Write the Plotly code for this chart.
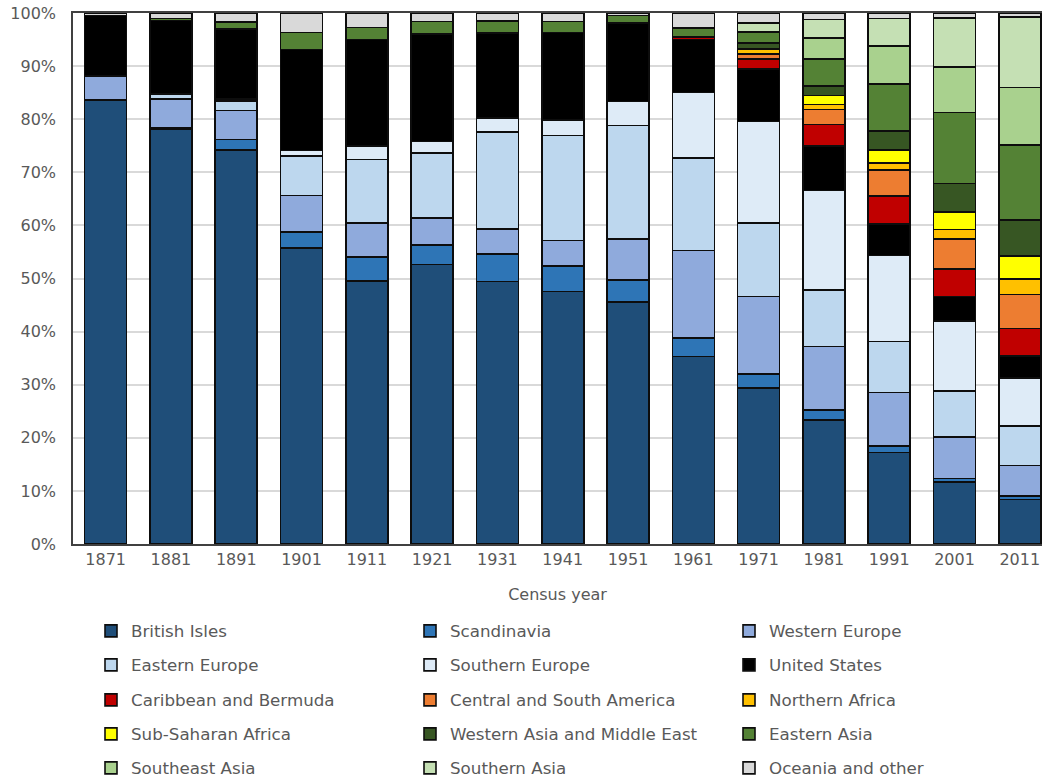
import plotly.graph_objects as go

# Census years
years = ["1871", "1881", "1891", "1901", "1911", "1921", "1931", "1941",
         "1951", "1961", "1971", "1981", "1991", "2001", "2011"]

# Share of the immigrant population by place of birth (%)
british_isles = [83.6, 78.1, 74.25, 55.8, 49.5, 52.6, 49.4, 47.55, 45.6, 35.3, 29.4, 23.4, 17.2, 11.7, 8.4]
scandinavia = [0.1, 0.3, 1.9, 3.0, 4.5, 3.7, 5.25, 4.8, 4.15, 3.5, 2.65, 1.8, 1.3, 0.6, 0.6]
western_europe = [4.4, 5.4, 5.5, 6.8, 6.4, 5.1, 4.7, 4.8, 7.7, 16.5, 14.55, 12.0, 10.0, 7.8, 5.8]
eastern_europe = [0.0, 0.9, 1.75, 7.5, 12.0, 12.2, 18.25, 19.75, 21.4, 17.45, 13.85, 10.6, 9.6, 8.7, 7.4]
southern_europe = [0.0, 0.0, 0.4, 1.0, 2.5, 2.2, 2.6, 2.9, 4.45, 12.3, 19.15, 18.8, 16.2, 13.2, 9.1]
united_states = [11.4, 13.9, 13.15, 19.0, 20.1, 20.2, 16.0, 16.5, 14.8, 9.95, 9.9, 8.3, 6.0, 4.6, 4.1]
caribbean_bermuda = [0, 0, 0, 0, 0, 0, 0, 0, 0, 0.5, 1.8, 4.1, 5.2, 5.2, 5.2]
central_south_america = [0, 0, 0, 0, 0, 0, 0, 0, 0, 0, 1.0, 2.8, 4.9, 5.6, 6.4]
northern_africa = [0, 0, 0, 0, 0, 0, 0, 0, 0, 0, 0.95, 1.0, 1.3, 1.8, 2.9]
sub_saharan_africa = [0, 0, 0, 0, 0, 0, 0, 0, 0, 0, 0.1, 1.7, 2.5, 3.3, 4.3]
western_asia_middle_east = [0, 0, 0, 0, 0, 0, 0, 0, 0, 0, 0.95, 1.7, 3.6, 5.4, 6.8]
eastern_asia = [0, 0.4, 1.4, 3.25, 2.25, 2.4, 2.35, 2.1, 1.4, 1.7, 2.15, 5.1, 8.8, 13.4, 14.1]
southeast_asia = [0, 0, 0, 0, 0, 0, 0, 0, 0, 0, 0.1, 4.0, 7.2, 8.5, 10.9]
southern_asia = [0, 0, 0, 0, 0, 0, 0, 0, 0, 0, 1.6, 3.5, 5.2, 9.3, 13.2]
oceania_other = [0.5, 1.0, 1.65, 3.65, 2.75, 1.6, 1.45, 1.6, 0.5, 2.8, 1.85, 1.2, 1.0, 0.9, 0.8]

regions = [
    ("British Isles", british_isles, "#1F4E79"),
    ("Scandinavia", scandinavia, "#2E75B6"),
    ("Western Europe", western_europe, "#8FAADC"),
    ("Eastern Europe", eastern_europe, "#BDD7EE"),
    ("Southern Europe", southern_europe, "#DEEBF7"),
    ("United States", united_states, "#000000"),
    ("Caribbean and Bermuda", caribbean_bermuda, "#C00000"),
    ("Central and South America", central_south_america, "#ED7D31"),
    ("Northern Africa", northern_africa, "#FFC000"),
    ("Sub-Saharan Africa", sub_saharan_africa, "#FFFF00"),
    ("Western Asia and Middle East", western_asia_middle_east, "#375623"),
    ("Eastern Asia", eastern_asia, "#548235"),
    ("Southeast Asia", southeast_asia, "#A9D18E"),
    ("Southern Asia", southern_asia, "#C5E0B4"),
    ("Oceania and other", oceania_other, "#D9D9D9"),
]

FONT = "DejaVu Sans, Verdana, sans-serif"
GREY_TEXT = "#595959"

fig = go.Figure()
legend_ids = ["legend", "legend2", "legend3", "legend4", "legend5"]
for i, (name, vals, color) in enumerate(regions):
    fig.add_trace(go.Bar(
        x=years, y=vals, name=name,
        marker=dict(color=color, line=dict(color="#0d0d0d", width=1.6)),
        legend=legend_ids[i // 3],
    ))

# one horizontal legend per row, three entries each
row_px = [631, 665, 700, 734, 768]
plot_left, plot_right = 73, 1042
plot_top, plot_bottom = 13, 544
plot_w = plot_right - plot_left
plot_h = plot_bottom - plot_top
legend_layout = {}
for k, lid in enumerate(legend_ids):
    legend_layout[lid] = dict(
        orientation="h",
        x=18 / plot_w, xanchor="left",
        y=(plot_bottom - row_px[k]) / plot_h, yanchor="middle",
        entrywidth=274, entrywidthmode="pixels",
        font=dict(family=FONT, size=16.7, color=GREY_TEXT),
        bgcolor="rgba(0,0,0,0)",
        traceorder="normal",
        itemclick=False, itemdoubleclick=False,
    )

fig.update_layout(
    width=1042, height=778,
    margin=dict(l=plot_left, r=1042 - plot_right, t=plot_top, b=778 - plot_bottom,
                autoexpand=False),
    barmode="stack", bargap=0.357,
    plot_bgcolor="white", paper_bgcolor="white",
    font=dict(family=FONT, size=16, color=GREY_TEXT),
    **legend_layout,
)

fig.update_xaxes(
    type="category", range=[-0.5, 14.34],
    showline=True, linecolor="#404040", linewidth=1.5, mirror=True,
    showgrid=False, ticks="",
    ticklabelstandoff=0,
    tickfont=dict(family=FONT, size=16, color=GREY_TEXT),
    title=dict(text="Census year", font=dict(family=FONT, size=16, color=GREY_TEXT), standoff=21),
)
fig.update_yaxes(
    range=[0, 100], tickmode="array",
    tickvals=list(range(0, 101, 10)),
    ticktext=[f"{v}%" for v in range(0, 101, 10)],
    showline=True, linecolor="#404040", linewidth=1.5, mirror=True,
    showgrid=True, gridcolor="#d9d9d9", gridwidth=1.5,
    zeroline=False, ticks="",
    ticklabelstandoff=12,
    tickfont=dict(family=FONT, size=16, color=GREY_TEXT),
)

fig.write_html("out.html")
